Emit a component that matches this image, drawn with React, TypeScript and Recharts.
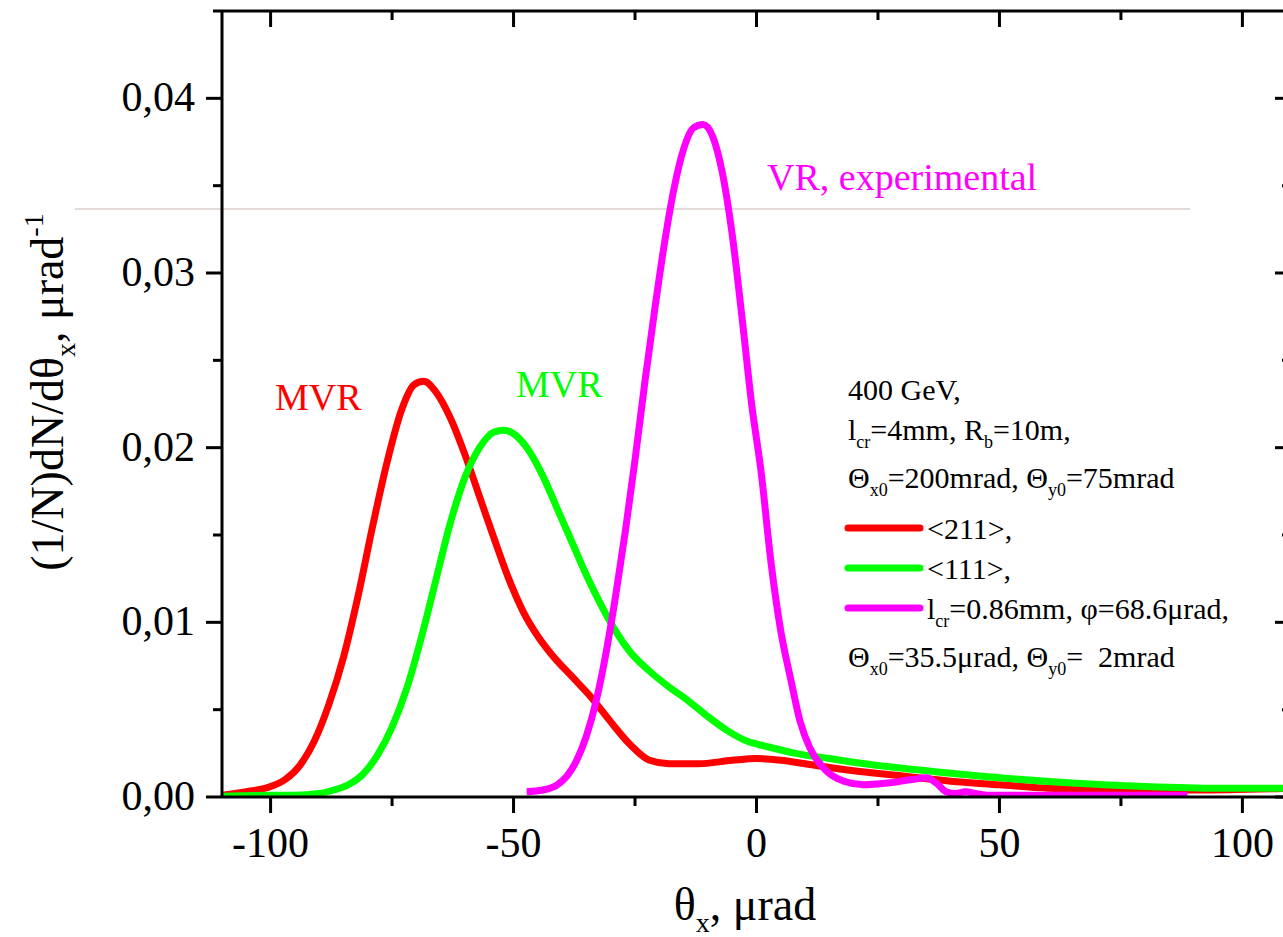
import React from "react";
import { LineChart, Line, XAxis, YAxis, Customized } from "recharts";

const FONT = "'Liberation Serif', 'Times New Roman', serif";

const X_TICKS = [-100, -75, -50, -25, 0, 25, 50, 75, 100];
const Y_TICKS = [0, 0.005, 0.01, 0.015, 0.02, 0.025, 0.03, 0.035, 0.04];

// <211>, simulation
const theta211 = [
  -110, -105, -100, -97, -94, -91, -88, -85, -82, -79, -76, -73, -70.5, -68.5, -66, -63, -60, -57, -54, -51,
  -48, -45, -42, -38, -34, -30, -26, -22, -18, -12, -5, 0, 5, 10, 20, 30, 40, 50, 60, 75, 90, 110,
];
const dens211 = [
  0.0001, 0.0003, 0.0006, 0.001, 0.0018, 0.0032, 0.0053, 0.008, 0.0115, 0.0155, 0.0192, 0.0222, 0.0236, 0.0238,
  0.0232, 0.0217, 0.0196, 0.0172, 0.0148, 0.0125, 0.0106, 0.0092, 0.0081, 0.0069, 0.0057, 0.0043, 0.003, 0.0021,
  0.0019, 0.0019, 0.0021, 0.0022, 0.0021, 0.0019, 0.0015, 0.0012, 0.0009, 0.0007, 0.0005, 0.0004, 0.0004, 0.0005,
];

// <111>, simulation
const theta111 = [
  -110, -100, -95, -90, -87, -84, -81, -78, -75, -72, -69, -66, -63, -60, -57, -54, -52, -50, -47, -44, -41, -38,
  -35, -32, -29, -26, -22, -18, -14, -10, -6, -2, 2, 8, 15, 25, 35, 50, 65, 80, 95, 110,
];
const dens111 = [
  0.00005, 0.0001, 0.0001, 0.0002, 0.0004, 0.0007, 0.0013, 0.0024, 0.004, 0.0062, 0.0091, 0.0124, 0.0157, 0.0183,
  0.02, 0.0209, 0.021, 0.0208, 0.0199, 0.0184, 0.0165, 0.0146, 0.0127, 0.011, 0.0095, 0.0083, 0.0072, 0.0063,
  0.0055, 0.0046, 0.0038, 0.0032, 0.0029, 0.0025, 0.0022, 0.0018, 0.0015, 0.0011, 0.0008, 0.0006, 0.0005, 0.0005,
];

// VR, experimental
const thetaVR = [
  -47.3, -44, -41, -39, -37, -35, -33, -31, -29, -27, -25, -23, -21, -19, -17, -15, -13, -11, -9, -7, -5, -3, -1,
  1, 3, 5, 7, 9, 11, 14, 18, 22, 27, 32, 35, 37, 39, 41, 43, 45, 48, 50, 88.7,
];
const densVR = [
  0.0003, 0.0004, 0.0007, 0.0012, 0.0021, 0.0035, 0.0055, 0.0082, 0.0115, 0.0152, 0.0193, 0.0237, 0.0278, 0.0316,
  0.0348, 0.0371, 0.0383, 0.0385, 0.0378, 0.0357, 0.0322, 0.0275, 0.0225, 0.0185, 0.0134, 0.0095, 0.0068, 0.0043,
  0.0028, 0.0016, 0.0009, 0.0007, 0.0008, 0.001, 0.0011, 0.0008, 0.0003, 0.0002, 0.0003, 0.0002, 0.0001, 0.0001,
  0.0001,
];

const zip = (xs: number[], ys: number[]) => xs.map((x, i) => ({ x, y: ys[i] }));

const SERIES = [
  { key: "s211", color: "#ff0000", data: zip(theta211, dens211) },
  { key: "s111", color: "#00ff00", data: zip(theta111, dens111) },
  { key: "vr", color: "#ff00ff", data: zip(thetaVR, densVR) },
];

const isMajorX = (v: number) => v % 50 === 0;
const isMajorY = (v: number) => Math.round(v * 1000) % 10 === 0;
const fmtY = (v: number) => v.toFixed(2).replace(".", ",");

function BottomTick({ x, y, payload }: any) {
  const major = isMajorX(payload.value);
  return (
    <g>
      <line x1={x} y1={y} x2={x} y2={y + (major ? 16 : 9)} stroke="#000" strokeWidth={3} />
      {major && (
        <text x={x} y={y + 60} textAnchor="middle" fontSize={42} fontFamily={FONT} fill="#000">
          {payload.value}
        </text>
      )}
    </g>
  );
}

function TopTick({ x, y, payload }: any) {
  const major = isMajorX(payload.value);
  return <line x1={x} y1={y} x2={x} y2={y + (major ? 16 : 9)} stroke="#000" strokeWidth={3} />;
}

function LeftTick({ x, y, payload }: any) {
  const major = isMajorY(payload.value);
  return (
    <g>
      <line x1={x} y1={y} x2={x - (major ? 16 : 9)} y2={y} stroke="#000" strokeWidth={3} />
      {major && (
        <text x={x - 27} y={y + 13} textAnchor="end" fontSize={42} fontFamily={FONT} fill="#000">
          {fmtY(payload.value)}
        </text>
      )}
    </g>
  );
}

function RightTick({ x, y, payload }: any) {
  const major = isMajorY(payload.value);
  return <line x1={x} y1={y} x2={x - (major ? 16 : 9)} y2={y} stroke="#000" strokeWidth={3} />;
}

function ScanLine() {
  return <line x1={75} y1={209} x2={1190} y2={209} stroke="#d8cfcb" strokeWidth={1.5} />;
}

function Annotations() {
  const sub = { fontSize: 18 };
  return (
    <g fontFamily={FONT} fill="#000">
      <line x1={213} y1={11} x2={222} y2={11} stroke="#000" strokeWidth={3} />
      <text x={275} y={410} fill="#ff0000" fontSize={38}>MVR</text>
      <text x={516} y={397} fill="#00ff00" fontSize={38}>MVR</text>
      <text x={767} y={190} fill="#ff00ff" fontSize={38}>VR, experimental</text>

      <g fontSize={30}>
        <text x={848} y={400}>400 GeV,</text>
        <text x={848} y={440}>
          l<tspan {...sub} dy={8}>cr</tspan>
          <tspan dy={-8}>=4mm, R</tspan>
          <tspan {...sub} dy={8}>b</tspan>
          <tspan dy={-8}>=10m,</tspan>
        </text>
        <text x={848} y={488}>
          Θ<tspan {...sub} dy={8}>x0</tspan>
          <tspan dy={-8}>=200mrad, Θ</tspan>
          <tspan {...sub} dy={8}>y0</tspan>
          <tspan dy={-8}>=75mrad</tspan>
        </text>
        {SERIES.map((s, i) => (
          <line
            key={s.key}
            x1={848}
            x2={920}
            y1={528 + i * 40}
            y2={528 + i * 40}
            stroke={s.color}
            strokeWidth={7}
            strokeLinecap="round"
          />
        ))}
        <text x={927} y={539}>&lt;211&gt;,</text>
        <text x={927} y={579}>&lt;111&gt;,</text>
        <text x={927} y={619}>
          l<tspan {...sub} dy={8}>cr</tspan>
          <tspan dy={-8}>=0.86mm, φ=68.6μrad,</tspan>
        </text>
        <text x={848} y={667}>
          Θ<tspan {...sub} dy={8}>x0</tspan>
          <tspan dy={-8}>=35.5μrad, Θ</tspan>
          <tspan {...sub} dy={8}>y0</tspan>
          <tspan dy={-8}>{"=\u00a0\u00a02mrad"}</tspan>
        </text>
      </g>

      <text x={745} y={920} textAnchor="middle" fontSize={46}>
        θ<tspan fontSize={28} dy={12}>x</tspan>
        <tspan dy={-12}>, μrad</tspan>
      </text>

      <text x={63} y={392} transform="rotate(-90, 63, 392)" textAnchor="middle" fontSize={46}>
        (1/N)dN/dθ<tspan fontSize={28} dy={12}>x</tspan>
        <tspan dy={-12}>, μrad</tspan>
        <tspan fontSize={28} dy={-20}>-1</tspan>
      </text>
    </g>
  );
}

export default function App() {
  const axisLine = { stroke: "#000", strokeWidth: 3 };
  return (
    <div
      style={{
        position: "fixed",
        left: 0,
        top: 0,
        width: 1283,
        height: 937,
        overflow: "hidden",
        background: "#fff",
      }}
    >
      <LineChart width={1300} height={937} margin={{ top: 10, right: 8, bottom: 0, left: 0 }}>
        <Customized component={ScanLine} />
        <XAxis
          xAxisId="b"
          type="number"
          dataKey="x"
          domain={[-110, 110]}
          ticks={X_TICKS}
          interval={0}
          height={140}
          tickSize={0}
          tickMargin={0}
          tickLine={false}
          axisLine={axisLine}
          tick={<BottomTick />}
          allowDataOverflow
        />
        <XAxis
          xAxisId="t"
          orientation="top"
          type="number"
          dataKey="x"
          domain={[-110, 110]}
          ticks={X_TICKS}
          interval={0}
          height={1}
          tickSize={0}
          tickMargin={0}
          tickLine={false}
          axisLine={axisLine}
          tick={<TopTick />}
          allowDataOverflow
        />
        <YAxis
          yAxisId="l"
          type="number"
          domain={[0, 0.045]}
          ticks={Y_TICKS}
          interval={0}
          width={222}
          tickSize={0}
          tickMargin={0}
          tickLine={false}
          axisLine={axisLine}
          tick={<LeftTick />}
          allowDataOverflow
        />
        <YAxis
          yAxisId="r"
          orientation="right"
          type="number"
          domain={[0, 0.045]}
          ticks={Y_TICKS}
          interval={0}
          width={1}
          tickSize={0}
          tickMargin={0}
          tickLine={false}
          axisLine={axisLine}
          tick={<RightTick />}
          allowDataOverflow
        />
        {SERIES.map((s) => (
          <Line
            key={s.key}
            xAxisId="b"
            yAxisId="l"
            data={s.data}
            dataKey="y"
            type="monotone"
            stroke={s.color}
            strokeWidth={7}
            dot={false}
            activeDot={false}
            isAnimationActive={false}
          />
        ))}
        <Customized component={Annotations} />
      </LineChart>
    </div>
  );
}
